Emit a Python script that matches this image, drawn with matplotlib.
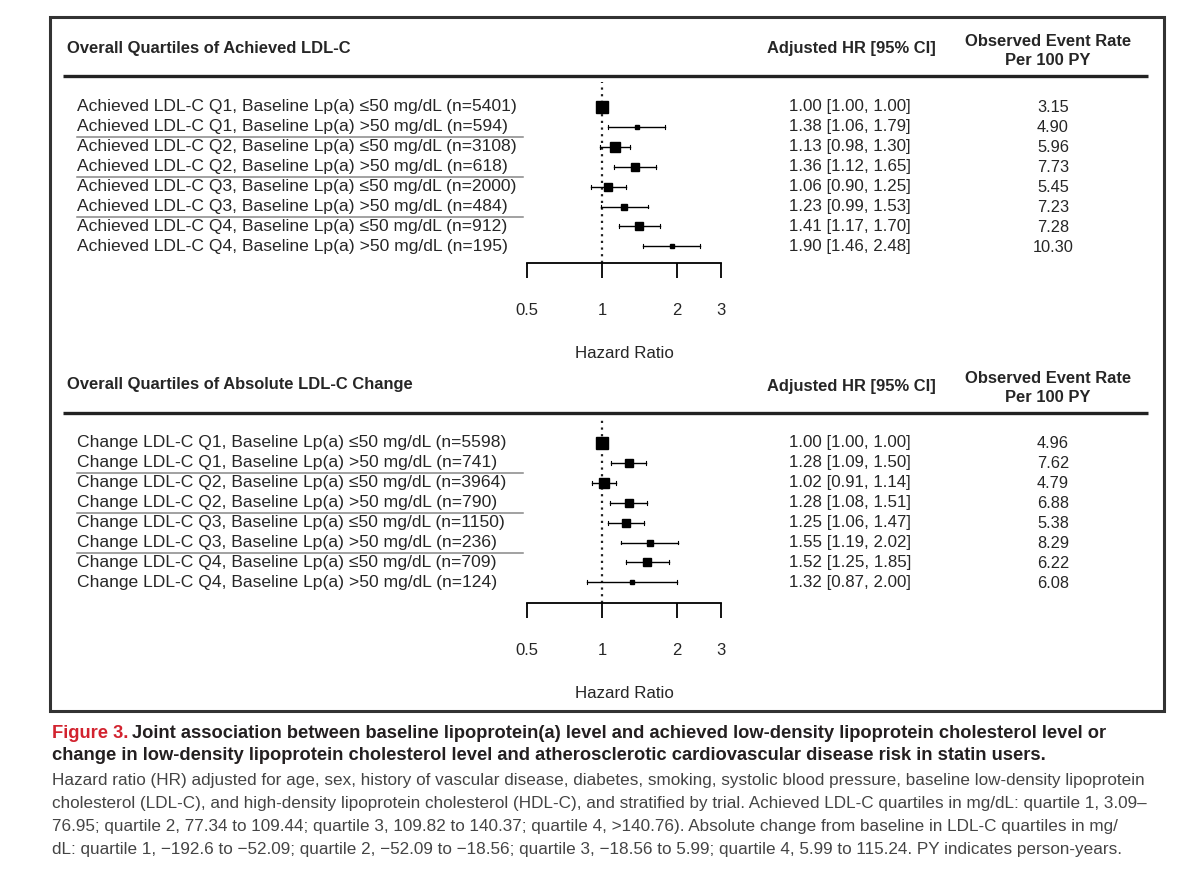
import numpy as np
import matplotlib.pyplot as plt
from matplotlib.patches import Rectangle

plt.rcParams['font.family'] = ['Liberation Sans', 'DejaVu Sans']

W, H = 1179, 876

# ---- data ----
ach_labels = [
    'Achieved LDL-C Q1, Baseline Lp(a) \u226450 mg/dL (n=5401)',
    'Achieved LDL-C Q1, Baseline Lp(a) >50 mg/dL (n=594)',
    'Achieved LDL-C Q2, Baseline Lp(a) \u226450 mg/dL (n=3108)',
    'Achieved LDL-C Q2, Baseline Lp(a) >50 mg/dL (n=618)',
    'Achieved LDL-C Q3, Baseline Lp(a) \u226450 mg/dL (n=2000)',
    'Achieved LDL-C Q3, Baseline Lp(a) >50 mg/dL (n=484)',
    'Achieved LDL-C Q4, Baseline Lp(a) \u226450 mg/dL (n=912)',
    'Achieved LDL-C Q4, Baseline Lp(a) >50 mg/dL (n=195)',
]
ach_hr = [1.00, 1.38, 1.13, 1.36, 1.06, 1.23, 1.41, 1.90]
ach_lo = [1.00, 1.06, 0.98, 1.12, 0.90, 0.99, 1.17, 1.46]
ach_hi = [1.00, 1.79, 1.30, 1.65, 1.25, 1.53, 1.70, 2.48]
ach_rate = ['3.15', '4.90', '5.96', '7.73', '5.45', '7.23', '7.28', '10.30']

chg_labels = [
    'Change LDL-C Q1, Baseline Lp(a) \u226450 mg/dL (n=5598)',
    'Change LDL-C Q1, Baseline Lp(a) >50 mg/dL (n=741)',
    'Change LDL-C Q2, Baseline Lp(a) \u226450 mg/dL (n=3964)',
    'Change LDL-C Q2, Baseline Lp(a) >50 mg/dL (n=790)',
    'Change LDL-C Q3, Baseline Lp(a) \u226450 mg/dL (n=1150)',
    'Change LDL-C Q3, Baseline Lp(a) >50 mg/dL (n=236)',
    'Change LDL-C Q4, Baseline Lp(a) \u226450 mg/dL (n=709)',
    'Change LDL-C Q4, Baseline Lp(a) >50 mg/dL (n=124)',
]
chg_hr = [1.00, 1.28, 1.02, 1.28, 1.25, 1.55, 1.52, 1.32]
chg_lo = [1.00, 1.09, 0.91, 1.08, 1.06, 1.19, 1.25, 0.87]
chg_hi = [1.00, 1.50, 1.14, 1.51, 1.47, 2.02, 1.85, 2.00]
chg_rate = ['4.96', '7.62', '4.79', '6.88', '5.38', '8.29', '6.22', '6.08']

xticks = [0.5, 1, 2, 3]
xtick_labels = ['0.5', '1', '2', '3']

caption_bold = [
    'Joint association between baseline lipoprotein(a) level and achieved low-density lipoprotein cholesterol level or',
    'change in low-density lipoprotein cholesterol level and atherosclerotic cardiovascular disease risk in statin users.',
]
caption_body = [
    'Hazard ratio (HR) adjusted for age, sex, history of vascular disease, diabetes, smoking, systolic blood pressure, baseline low-density lipoprotein',
    'cholesterol (LDL-C), and high-density lipoprotein cholesterol (HDL-C), and stratified by trial. Achieved LDL-C quartiles in mg/dL: quartile 1, 3.09\u2013',
    '76.95; quartile 2, 77.34 to 109.44; quartile 3, 109.82 to 140.37; quartile 4, >140.76). Absolute change from baseline in LDL-C quartiles in mg/',
    'dL: quartile 1, \u2212192.6 to \u221252.09; quartile 2, \u221252.09 to \u221218.56; quartile 3, \u221218.56 to 5.99; quartile 4, 5.99 to 115.24. PY indicates person-years.',
]

fig = plt.figure(figsize=(W / 100, H / 100), dpi=100)
bg = fig.add_axes([0, 0, 1, 1])
bg.set_xlim(0, W)
bg.set_ylim(H, 0)
bg.axis('off')

TXT = '#262626'
bg.add_patch(Rectangle((50, 17), 1114, 694, fill=False, lw=2.2, ec='#333333'))


def panel(title, labels, hr, lo, hi, rate, top_line, row0, axis_y):
    # header texts
    bg.text(67, top_line - 28, title, fontsize=11.9, fontweight='bold', va='center', color=TXT)
    bg.text(851, top_line - 27, 'Adjusted HR [95% CI]', fontsize=11.9, fontweight='bold',
            va='center', ha='center', color=TXT)
    bg.text(1048, top_line - 25, 'Observed Event Rate\nPer 100 PY', fontsize=11.9,
            fontweight='bold', va='center', ha='center', color=TXT, linespacing=1.35)
    bg.plot([63, 1148], [top_line, top_line], color='#222222', lw=2.4, solid_capstyle='butt')

    step = 19.9
    rows = row0 + step * np.arange(len(labels))
    for i, (lab, y) in enumerate(zip(labels, rows)):
        bg.text(77, y, lab, fontsize=12.6, va='center', color=TXT)
        bg.text(789, y, f'{hr[i]:.2f} [{lo[i]:.2f}, {hi[i]:.2f}]', fontsize=12.2,
                va='center', color=TXT)
        bg.text(1053, y + 1, rate[i], fontsize=11.8, va='center', ha='center', color=TXT)
    for k in (1, 3, 5):
        yy = (rows[k] + rows[k + 1]) / 2 + 0.5
        bg.plot([77, 523], [yy, yy], color='#888888', lw=1.1)

    # forest axes: log x, 0.5 -> px 527, 3 -> px 721
    x0, x1 = 527, 721
    ytop = top_line + 6
    ax = fig.add_axes([x0 / W, 1 - axis_y / H, (x1 - x0) / W, (axis_y - ytop) / H])
    ax.set_xscale('log')
    ax.set_xlim(0.5, 3)
    # map row index to pixel rows
    ax.set_ylim((axis_y - row0) / step, (ytop - row0) / step)
    ax.patch.set_alpha(0)
    for s in ('top', 'right', 'left'):
        ax.spines[s].set_visible(False)
    ax.spines['bottom'].set_linewidth(1.3)
    ax.set_yticks([])
    ax.set_xticks(xticks)
    ax.set_xticklabels(xtick_labels)
    ax.minorticks_off()
    ax.tick_params(axis='x', length=11, width=1.3, pad=18, labelsize=12, labelcolor=TXT)
    ax.set_xlabel('Hazard Ratio', fontsize=12.2, labelpad=20, color=TXT)
    ax.axvline(1, color='#222222', lw=1.6, ls=(0, (1, 2.0)))

    hr = np.array(hr)
    lo = np.array(lo)
    hi = np.array(hi)
    width = np.log(hi / lo)
    inv = np.zeros_like(width)
    ok = width > 0
    inv[ok] = 1 / width[ok]
    sz = np.full(len(hr), 12.0)
    sz[ok] = 4.5 + 6 * (inv[ok] - inv[ok].min()) / (inv[ok].max() - inv[ok].min())
    for i in range(len(hr)):
        if hi[i] > lo[i]:
            ax.plot([lo[i], hi[i]], [i, i], color='black', lw=1.0, clip_on=False)
            ax.plot([lo[i], lo[i]], [i - 0.1, i + 0.1], color='black', lw=0.8, clip_on=False)
            ax.plot([hi[i], hi[i]], [i - 0.1, i + 0.1], color='black', lw=0.8, clip_on=False)
        ax.plot(hr[i], i, marker='s', ms=sz[i] * 0.72, color='black', mec='black',
                clip_on=False, zorder=3)
    return ax


panel('Overall Quartiles of Achieved LDL-C', ach_labels, ach_hr, ach_lo, ach_hi, ach_rate,
      76, 107, 263)
panel('Overall Quartiles of Absolute LDL-C Change', chg_labels, chg_hr, chg_lo, chg_hi,
      chg_rate, 413, 443, 603)

# caption
t = bg.text(52, 733, 'Figure 3.', fontsize=13.2, fontweight='bold', color='#d2232f',
            va='center')
fig.canvas.draw()
bb = t.get_window_extent()
bg.text(bb.x1 + 4, 733, caption_bold[0], fontsize=13.2, fontweight='bold', color='#231f20',
        va='center')
bg.text(52, 756, caption_bold[1], fontsize=13.2, fontweight='bold', color='#231f20',
        va='center')
for j, line in enumerate(caption_body):
    bg.text(52, 780 + 23.1 * j, line, fontsize=12.3, color='#444444', va='center')

fig.savefig('out.png', dpi=100)
